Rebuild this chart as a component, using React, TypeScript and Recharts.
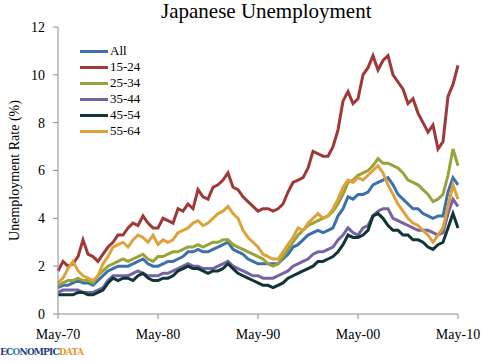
import { Legend, Line, LineChart, XAxis, YAxis } from 'recharts';

// semi-annual readings (May / Nov), May-70 .. May-10
const periods: string[] = [];
for (let y = 1970; y <= 2010; y++) {
	const yy = String(y % 100).padStart(2, '0');
	periods.push(`May-${yy}`);
	if (y < 2010) periods.push(`Nov-${yy}`);
}

const tickLabels = ['May-70', 'May-80', 'May-90', 'May-00', 'May-10'];
const yTicks = [0, 2, 4, 6, 8, 10, 12];

const all = [
	1.1, 1.2, 1.2, 1.3, 1.4, 1.3, 1.3, 1.2, 1.4, 1.6, 1.8, 1.9, 2.0, 2.0, 2.0, 2.1, 2.2, 2.3, 2.1, 2.0,
	2.0, 2.1, 2.2, 2.2, 2.3, 2.4, 2.6, 2.6, 2.7, 2.6, 2.6, 2.7, 2.8, 2.9, 3.0, 2.7, 2.6, 2.5, 2.3, 2.2,
	2.1, 2.1, 2.1, 2.1, 2.1, 2.3, 2.5, 2.8, 2.9, 3.1, 3.3, 3.4, 3.5, 3.4, 3.5, 3.6, 4.1, 4.4, 4.9, 4.8,
	5.0, 5.0, 5.1, 5.4, 5.5, 5.6, 5.7, 5.4, 5.0, 4.8, 4.6, 4.4, 4.4, 4.2, 4.1, 4.0, 4.1, 4.1, 5.1, 5.7,
	5.4
];
const age15to24 = [
	1.8, 2.2, 2.0, 2.1, 2.4, 3.1, 2.5, 2.4, 2.2, 2.5, 2.8, 3.0, 3.3, 3.3, 3.6, 3.8, 3.7, 4.1, 3.8, 3.6,
	3.6, 4.0, 3.9, 3.8, 4.4, 4.3, 4.6, 4.4, 5.2, 4.9, 4.8, 5.3, 5.4, 5.6, 5.9, 5.3, 5.2, 4.9, 4.7, 4.5,
	4.3, 4.4, 4.4, 4.3, 4.4, 4.6, 5.1, 5.5, 5.6, 5.7, 6.1, 6.8, 6.7, 6.6, 6.6, 7.0, 7.7, 8.9, 9.3, 8.8,
	9.0, 10.0, 10.3, 10.8, 10.2, 10.6, 10.8, 10.0, 9.7, 9.4, 8.8, 9.0, 8.4, 8.0, 7.6, 7.9, 6.9, 7.2, 9.1, 9.6,
	10.4
];
const age25to34 = [
	1.2, 1.3, 1.4, 1.4, 1.5, 1.4, 1.4, 1.3, 1.6, 1.8, 2.0, 2.1, 2.2, 2.3, 2.2, 2.3, 2.4, 2.5, 2.3, 2.2,
	2.4, 2.4, 2.5, 2.6, 2.6, 2.7, 2.8, 2.8, 2.9, 2.8, 2.9, 3.0, 3.0, 3.1, 3.1, 2.9, 2.8, 2.7, 2.6, 2.5,
	2.4, 2.3, 2.1, 2.0, 2.1, 2.4, 2.7, 3.0, 3.3, 3.5, 3.7, 3.8, 3.9, 4.0, 4.1, 4.3, 4.6, 5.0, 5.5, 5.6,
	5.8, 5.9, 6.0, 6.2, 6.5, 6.3, 6.3, 6.2, 6.1, 5.9, 5.6, 5.5, 5.4, 5.2, 5.0, 4.7, 4.8, 5.0, 5.8, 6.9,
	6.2
];
const age35to44 = [
	0.9, 1.0, 1.0, 1.0, 1.0, 0.9, 0.9, 0.9, 1.0, 1.1, 1.4, 1.6, 1.6, 1.6, 1.6, 1.7, 1.8, 1.7, 1.6, 1.6,
	1.6, 1.7, 1.7, 1.8, 1.9, 2.0, 2.1, 2.0, 2.0, 1.9, 1.9, 1.9, 2.0, 2.1, 2.2, 2.0, 1.9, 1.8, 1.7, 1.6,
	1.6, 1.5, 1.5, 1.5, 1.6, 1.7, 1.8, 2.0, 2.1, 2.2, 2.3, 2.5, 2.6, 2.6, 2.7, 2.8, 3.1, 3.3, 3.6, 3.4,
	3.3, 3.6, 3.7, 4.1, 4.3, 4.4, 4.4, 4.0, 3.9, 3.8, 3.7, 3.6, 3.5, 3.5, 3.5, 3.4, 3.3, 3.4, 4.2, 4.8,
	4.5
];
const age45to54 = [
	0.8, 0.8, 0.8, 0.8, 0.9, 0.9, 0.8, 0.8, 0.9, 1.0, 1.3, 1.5, 1.4, 1.5, 1.5, 1.4, 1.6, 1.7, 1.5, 1.4,
	1.4, 1.5, 1.5, 1.6, 1.8, 1.9, 2.0, 1.9, 1.9, 1.8, 1.7, 1.8, 1.8, 1.9, 2.1, 1.9, 1.7, 1.6, 1.5, 1.4,
	1.3, 1.2, 1.2, 1.1, 1.2, 1.3, 1.5, 1.6, 1.7, 1.8, 1.9, 2.0, 2.2, 2.2, 2.3, 2.4, 2.6, 2.9, 3.3, 3.2,
	3.2, 3.3, 3.5, 4.1, 4.2, 4.0, 3.7, 3.5, 3.5, 3.3, 3.3, 3.1, 3.1, 3.0, 2.8, 2.7, 2.9, 3.0, 3.6, 4.2,
	3.6
];
const age55to64 = [
	1.3, 1.5, 1.9, 2.2, 1.8, 1.6, 1.5, 1.4, 1.6, 2.1, 2.4, 2.8, 2.9, 3.0, 2.8, 3.1, 3.3, 3.2, 3.0, 3.3,
	2.9, 3.1, 3.0, 3.1, 3.4, 3.5, 3.6, 3.8, 3.9, 3.7, 3.8, 4.0, 4.2, 4.3, 4.5, 4.2, 4.0, 3.5, 3.2, 3.0,
	2.8, 2.5, 2.4, 2.3, 2.3, 2.6, 2.9, 3.2, 3.6, 3.5, 3.8, 4.0, 4.2, 4.0, 4.1, 4.4, 4.8, 5.3, 5.6, 5.5,
	5.7, 5.6, 5.8, 6.0, 6.2, 5.9, 5.4, 5.0, 4.6, 4.3, 4.0, 3.8, 3.7, 3.5, 3.3, 3.0, 3.3, 3.6, 4.5, 5.4,
	4.8
];

const seriesList = [
	{ key: 'all', name: 'All', values: all, color: '#3c71ac' },
	{ key: 'a1524', name: '15-24', values: age15to24, color: '#a03838' },
	{ key: 'a2534', name: '25-34', values: age25to34, color: '#9aa23a' },
	{ key: 'a3544', name: '35-44', values: age35to44, color: '#7464a6' },
	{ key: 'a4554', name: '45-54', values: age45to54, color: '#0f3534' },
	{ key: 'a5564', name: '55-64', values: age55to64, color: '#dea23a' }
];

const rows = periods.map((period, i) => {
	const row: Record<string, string | number> = { period };
	seriesList.forEach((s) => {
		row[s.key] = s.values[i];
	});
	return row;
});

const font = "'Liberation Serif', serif";

function LegendBox() {
	return (
		<div style={{ fontFamily: font, fontSize: 13, color: '#000' }}>
			{seriesList.map((s) => (
				<div key={s.key} style={{ display: 'flex', alignItems: 'center', height: 16 }}>
					<div style={{ width: 28, height: 3, background: s.color, marginRight: 2 }} />
					<span>{s.name}</span>
				</div>
			))}
		</div>
	);
}

export default function App() {
	return (
		<div
			style={{
				position: 'absolute',
				left: 0,
				top: 0,
				width: 490,
				height: 362,
				background: '#fff',
				fontFamily: font
			}}
		>
			<div
				style={{
					position: 'absolute',
					top: -1,
					left: 161,
					fontSize: 21,
					color: '#000',
					whiteSpace: 'nowrap'
				}}
			>
				Japanese Unemployment
			</div>
			<LineChart
				width={490}
				height={362}
				data={rows}
				margin={{ top: 27, right: 32, left: 0, bottom: 0 }}
			>
				<XAxis
					dataKey="period"
					ticks={tickLabels}
					interval={0}
					height={48}
					tickSize={5}
					tickMargin={10}
					stroke="#8c8c8c"
					tick={{ fill: '#000', fontSize: 14, fontFamily: font }}
				/>
				<YAxis
					domain={[0, 12]}
					ticks={yTicks}
					width={58}
					tickSize={5}
					tickMargin={8}
					stroke="#8c8c8c"
					tick={{ fill: '#000', fontSize: 14, fontFamily: font }}
					label={{
						value: 'Unemployment Rate (%)',
						angle: -90,
						position: 'insideLeft',
						offset: 14,
						style: { textAnchor: 'middle', fill: '#000', fontSize: 14, fontFamily: font }
					}}
				/>
				<Legend
					layout="vertical"
					align="center"
					verticalAlign="middle"
					wrapperStyle={{ left: 80, top: 43, width: 80 }}
					content={() => <LegendBox />}
				/>
				{seriesList.map((s) => (
					<Line
						key={s.key}
						dataKey={s.key}
						name={s.name}
						stroke={s.color}
						strokeWidth={3}
						dot={false}
						type="linear"
						isAnimationActive={false}
					/>
				))}
			</LineChart>
			<div
				style={{
					position: 'absolute',
					left: 0,
					top: 347,
					fontSize: 9,
					fontWeight: 'bold',
					fontFamily: "'DejaVu Serif', serif",
					letterSpacing: -0.8,
					color: '#1f3f7a'
				}}
			>
				EC<span style={{ color: '#2f7fc0' }}>O</span>NOMPIC<span style={{ color: '#e09a2a' }}>DATA</span>
			</div>
		</div>
	);
}
